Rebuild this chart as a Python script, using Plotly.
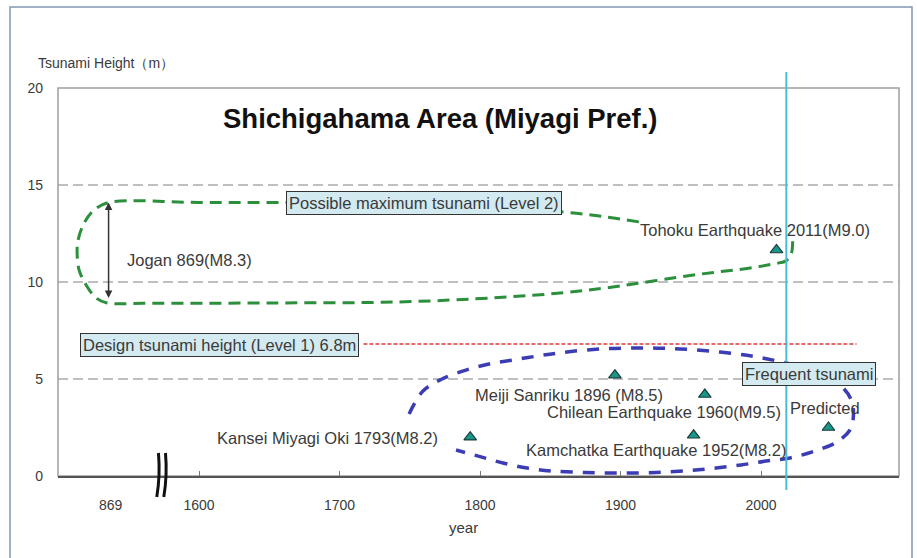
import plotly.graph_objects as go

# ---------------- data ----------------
# x positions are years; the region left of the break is compressed, so
# "869" is drawn at pseudo-year 1537.
x_tick_years = [1600, 1700, 1800, 1900, 2000]
x_tick_text = ["1600", "1700", "1800", "1900", "2000"]
jogan_label_pos = 1537
y_ticks = [0, 5, 10, 15, 20]

event_names = ["Kansei Miyagi Oki 1793(M8.2)", "Meiji Sanriku 1896 (M8.5)",
               "Kamchatka Earthquake 1952(M8.2)", "Chilean Earthquake 1960(M9.5)",
               "Tohoku Earthquake 2011(M9.0)", "Predicted"]
event_years = [1793, 1896, 1952, 1960, 2011, 2048]
event_heights = [2.0, 5.2, 2.1, 4.2, 11.65, 2.5]
label_x = [1771.5, 1863.3, 1924.9, 1930.6, 1995.4, 2045.5]
label_y = [1.96, 4.18, 1.34, 3.3, 12.68, 3.5]
label_anchor = ["right", "center", "center", "center", "center", "center"]

design_height = 6.8
design_span = [1717, 2068]
now_year = 2018

jogan_year = 1535.6
jogan_range = [9.1, 14.1]

# Level 2 envelope (green)
level2_x = [1913, 1890, 1860, 1800, 1720, 1652, 1600, 1536, 1525.3, 1518.2, 1513.9,
            1513.2, 1514.6, 1519.6, 1526.7, 1534.5, 1560, 1650, 1742, 1813, 1860,
            1892, 1956, 1990, 2010, 2018, 2021.5, 2022.5]
level2_y = [13.1, 13.35, 13.6, 13.85, 14.05, 14.1, 14.1, 14.1, 13.71, 13.04, 12.16,
            11.49, 10.62, 9.85, 9.18, 8.92, 8.9, 8.92, 8.97, 9.2, 9.45,
            9.72, 10.4, 10.7, 10.95, 11.1, 11.45, 12.1]

# Frequent tsunami envelope (blue)
level1_x = [1749.5, 1759.4, 1773, 1790, 1806.4, 1823.5, 1841.3, 1859, 1885.4, 1913.9,
            1942.3, 1970.8, 1997.2, 2020.6, 2042, 2057.7, 2064.8, 2065.5, 2063.3, 2054,
            2038.4, 2020.6, 2003.6, 1985.8, 1968, 1949.5, 1925.3, 1899.6, 1874.7, 1850.5,
            1833.5, 1816.4, 1800, 1782.9]
level1_y = [3.2, 4.38, 5.0, 5.46, 5.77, 5.98, 6.19, 6.37, 6.55, 6.6,
            6.55, 6.39, 6.13, 5.77, 5.26, 4.59, 3.81, 2.89, 2.37, 1.75,
            1.29, 0.93, 0.77, 0.57, 0.41, 0.28, 0.18, 0.15, 0.18, 0.26,
            0.41, 0.67, 1.0, 1.34]

box_texts = ["Possible maximum tsunami (Level 2)", "Design tsunami height (Level 1) 6.8m",
             "Frequent tsunami"]
box_x = [1760.1, 1614.2, 2034.2]
box_y = [14.07, 6.73, 5.28]

title_text = "Shichigahama Area (Miyagi Pref.)"
y_title = "Tsunami Height（m）"
x_title = "year"

# ---------------- figure ----------------
X0, X1 = 1499.6, 2098.2
FONT = "Arial, Liberation Sans, sans-serif"
TXT = "#3a3a3a"
LBL = 16.5
TICK = 14

fig = go.Figure()

fig.add_trace(go.Scatter(x=level2_x, y=level2_y, mode="lines", line_shape="spline",
                         line=dict(color="#2b8f3c", width=3, dash="12px,7px"),
                         hoverinfo="skip", showlegend=False))
fig.add_trace(go.Scatter(x=level1_x, y=level1_y, mode="lines", line_shape="spline",
                         line=dict(color="#3c3cb4", width=3.5, dash="12px,10px"),
                         hoverinfo="skip", showlegend=False))
fig.add_trace(go.Scatter(x=design_span, y=[design_height, design_height], mode="lines",
                         line=dict(color="#e03a3a", width=1.5, dash="4px,2px"),
                         hoverinfo="skip", showlegend=False))
fig.add_trace(go.Scatter(x=event_years, y=event_heights, mode="markers",
                         marker=dict(symbol="triangle-up", size=11, color="#17978a",
                                     line=dict(color="#1d3b3a", width=1.2)),
                         showlegend=False))

shapes = []
# outer frame
shapes.append(dict(type="rect", xref="paper", yref="paper",
                   x0=(10 - 58) / 841, x1=(912 - 58) / 841,
                   y0=(476 - 570) / 388, y1=(476 - 7) / 388,
                   line=dict(color="#8497b3", width=1.5), layer="below"))
# gridlines
for v in [5, 10, 15]:
    shapes.append(dict(type="line", xref="paper", yref="y", x0=0, x1=1, y0=v, y1=v,
                       line=dict(color="#808080", width=1, dash="10px,5px"), layer="below"))
# plot border
shapes.append(dict(type="rect", xref="paper", yref="paper", x0=0, x1=1, y0=0, y1=1,
                   line=dict(color="#a59d99", width=1.5), layer="below"))
# now line
shapes.append(dict(type="line", xref="x", yref="paper", x0=now_year, x1=now_year,
                   y0=(476 - 490) / 388, y1=(476 - 72) / 388,
                   line=dict(color="#45bfd6", width=2)))
# axis break marks
for bx in [1570.3, 1575.3]:
    y_top = (476 - 453) / 388
    y_bot = (476 - 497) / 388
    y_mid = (y_top + y_bot) / 2
    shapes.append(dict(type="path", xref="x", yref="paper",
                       path=f"M {bx + 0.8},{y_top} Q {bx + 2.2},{y_mid} {bx - 0.4},{y_bot}",
                       line=dict(color="#111111", width=3)))
fig.update_layout(shapes=shapes)

ann = []
for name, lx, ly, anc in zip(event_names, label_x, label_y, label_anchor):
    ann.append(dict(x=lx, y=ly, text=name, showarrow=False, xanchor=anc, yanchor="middle",
                    font=dict(family=FONT, size=LBL, color=TXT)))
for t, bx, by in zip(box_texts, box_x, box_y):
    ann.append(dict(x=bx, y=by, text=t, showarrow=False, xanchor="center", yanchor="middle",
                    bgcolor="#d2eaf0", bordercolor="#333333", borderwidth=1, borderpad=2,
                    font=dict(family=FONT, size=LBL, color=TXT)))
# Jogan double arrow and label
ann.append(dict(x=jogan_year, y=jogan_range[1], ax=jogan_year, ay=jogan_range[0],
                xref="x", yref="y", axref="x", ayref="y", text="", showarrow=True,
                arrowhead=2, startarrowhead=2, arrowside="end+start", arrowsize=1,
                arrowwidth=1.5, arrowcolor="#333333"))
ann.append(dict(x=1547.3, y=11.13, text="Jogan 869(M8.3)", showarrow=False, xanchor="left",
                yanchor="middle", font=dict(family=FONT, size=LBL, color=TXT)))
# title
ann.append(dict(x=1771.5, y=18.45, text=f"<b>{title_text}</b>", showarrow=False,
                xanchor="center", yanchor="middle",
                font=dict(family=FONT, size=27.5, color="#111111")))
# axis titles / special tick
ann.append(dict(xref="paper", yref="paper", x=(36 - 58) / 841, y=(476 - 63) / 388,
                text=y_title, showarrow=False, xanchor="left", yanchor="middle",
                font=dict(family=FONT, size=14, color=TXT)))
ann.append(dict(xref="x", yref="paper", x=1787.9, y=(476 - 527) / 388, text=x_title,
                showarrow=False, xanchor="center", yanchor="middle",
                font=dict(family=FONT, size=15, color=TXT)))
ann.append(dict(xref="x", yref="paper", x=jogan_label_pos, y=(476 - 505) / 388, text="869",
                showarrow=False, xanchor="center", yanchor="middle",
                font=dict(family=FONT, size=TICK, color=TXT)))
fig.update_layout(annotations=ann)

fig.update_layout(
    width=917, height=558,
    margin=dict(l=58, r=18, t=88, b=82),
    paper_bgcolor="white", plot_bgcolor="white",
    font=dict(family=FONT, size=TICK, color=TXT),
    xaxis=dict(range=[X0, X1], tickmode="array", tickvals=x_tick_years, ticktext=x_tick_text,
               showgrid=False, zeroline=False, showline=True, linecolor="#555555", linewidth=1.5,
               ticks="inside", ticklen=5, tickcolor="#777777", ticklabelstandoff=15,
               tickfont=dict(family=FONT, size=TICK, color=TXT), fixedrange=True),
    yaxis=dict(range=[0, 20], tickmode="array", tickvals=y_ticks, showgrid=False,
               zeroline=False, showline=False, ticks="", ticklabelstandoff=14,
               tickfont=dict(family=FONT, size=TICK, color=TXT), fixedrange=True),
)

fig.write_html("out.html", config={"displayModeBar": False},
               post_script="document.body.style.margin='0';")
